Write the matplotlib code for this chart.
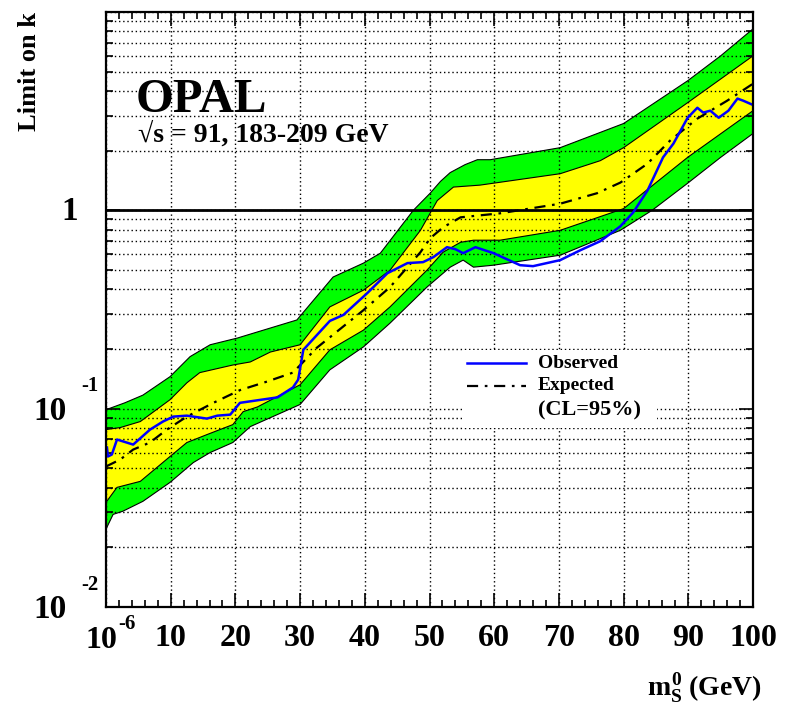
import numpy as np
import matplotlib.pyplot as plt
from matplotlib.ticker import LogLocator, MultipleLocator, NullFormatter
from matplotlib.patches import Rectangle
from matplotlib.lines import Line2D

plt.rcParams['font.family'] = ['Liberation Serif', 'DejaVu Serif']
plt.rcParams['font.weight'] = 'bold'
plt.rcParams['mathtext.fontset'] = 'custom'
plt.rcParams['mathtext.rm'] = 'Liberation Serif:bold'
plt.rcParams['mathtext.it'] = 'Liberation Serif:bold'
plt.rcParams['mathtext.bf'] = 'Liberation Serif:bold'

# 2 sigma band (green)
m_g_up = [0, 2.9, 5.7, 9.9, 13.0, 16.1, 20.3, 25.4, 29.5, 35.1, 39.8, 42.4, 47.5, 50.1, 51.7, 53.2, 55.5, 57.4, 59.4, 70.2, 80.0, 89.9, 95.0, 100]
k_g_up = [0.0988, 0.107, 0.117, 0.145, 0.183, 0.210, 0.227, 0.255, 0.280, 0.461, 0.542, 0.608, 1.0, 1.22, 1.40, 1.55, 1.70, 1.80, 1.80, 2.07, 2.74, 4.50, 6.01, 8.22]
m_g_lo = [0, 1.1, 2.6, 5.7, 9.9, 13.5, 16.1, 19.6, 22.3, 30.0, 34.6, 39.8, 43.9, 49.6, 53.2, 55.2, 56.8, 59.9, 70.2, 79.5, 84.4, 89.9, 95.0, 100]
k_g_lo = [0.0247, 0.0293, 0.0304, 0.0341, 0.0425, 0.0535, 0.0601, 0.0675, 0.0812, 0.105, 0.157, 0.205, 0.270, 0.410, 0.517, 0.561, 0.517, 0.529, 0.594, 0.793, 1.0, 1.37, 1.85, 2.44]

# 1 sigma band (yellow)
m_y_up = [0, 2.2, 5.3, 9.9, 12.5, 14.5, 19.6, 22.3, 25.4, 30.0, 34.6, 39.8, 43.9, 48.6, 51.2, 53.7, 57.8, 70.2, 76.4, 80.0, 89.9, 100]
k_y_up = [0.0784, 0.0803, 0.0861, 0.111, 0.135, 0.152, 0.166, 0.172, 0.193, 0.210, 0.326, 0.396, 0.499, 0.793, 1.12, 1.31, 1.34, 1.53, 1.78, 2.07, 3.49, 6.01]
m_y_lo = [0, 1.7, 5.3, 9.9, 12.5, 15.6, 19.6, 21.2, 23.4, 30.0, 34.6, 39.8, 43.9, 49.6, 52.1, 54.8, 56.8, 60.9, 70.2, 80.0, 89.9, 100]
k_y_lo = [0.0337, 0.0401, 0.0430, 0.0574, 0.0675, 0.0740, 0.0831, 0.0966, 0.102, 0.132, 0.198, 0.249, 0.326, 0.499, 0.615, 0.690, 0.707, 0.707, 0.793, 1.02, 1.85, 3.18]

# expected limit
m_exp = [0, 2.2, 4.2, 6.8, 9.4, 12.5, 16.6, 20.7, 24.9, 28.9, 32.6, 35.1, 39.8, 43.9, 48.6, 50.1, 52.1, 54.8, 60.9, 70.2, 75.9, 79.5, 83.7, 87.2, 91.4, 96.0, 100]
k_exp = [0.0511, 0.0554, 0.0622, 0.0675, 0.0784, 0.0912, 0.107, 0.124, 0.137, 0.152, 0.203, 0.236, 0.314, 0.410, 0.615, 0.723, 0.821, 0.922, 0.966, 1.08, 1.22, 1.38, 1.72, 2.25, 2.90, 3.57, 4.35]

# observed limit
m_obs = [0.15, 0.3, 0.9, 1.7, 4.2, 6.8, 8.8, 10.4, 12.5, 15.6, 17.2, 19.2, 20.7, 26.5, 28.9, 29.7, 30.5, 34.6, 36.7, 40.4, 43.5, 46.6, 49.0, 50.6, 52.7, 54.0, 55.2, 57.1, 59.9, 64.0, 66.0, 70.2, 73.3, 76.4, 79.5, 81.5, 83.7, 86.1, 87.7, 89.9, 91.4, 92.3, 93.4, 94.7, 96.2, 97.6, 98.5, 99.9]
k_obs = [0.0637, 0.0574, 0.0587, 0.0699, 0.0659, 0.0784, 0.0861, 0.0912, 0.0922, 0.0891, 0.0922, 0.0933, 0.107, 0.114, 0.128, 0.140, 0.198, 0.277, 0.297, 0.383, 0.482, 0.542, 0.548, 0.581, 0.652, 0.637, 0.608, 0.652, 0.608, 0.529, 0.523, 0.561, 0.629, 0.699, 0.831, 0.977, 1.26, 1.85, 2.17, 2.93, 3.29, 3.11, 3.18, 2.93, 3.18, 3.66, 3.57, 3.41]

W, H = 793, 704
fig = plt.figure(figsize=(W / 100, H / 100), dpi=100)
ax = fig.add_axes([106 / W, 1 - 607 / H, 647 / W, 595 / H])
ax.set_yscale('log')
ax.set_xlim(0, 100)
ax.set_ylim(0.01, 10)

ax.fill(np.r_[m_g_up, m_g_lo[::-1]], np.r_[k_g_up, k_g_lo[::-1]],
        facecolor='#00ff00', edgecolor='black', lw=0.8, zorder=1)
ax.fill(np.r_[m_y_up, m_y_lo[::-1]], np.r_[k_y_up, k_y_lo[::-1]],
        facecolor='#ffff00', edgecolor='black', lw=0.8, zorder=1.2)
ax.plot(m_exp, k_exp, color='black', lw=1.6, linestyle=(0, (5, 3, 1.2, 3)), zorder=3)
ax.plot(m_obs, k_obs, color='#0000ff', lw=1.8, zorder=3.1)
ax.axhline(1, color='black', lw=2.0, zorder=2.8)

# grid and ticks
ax.set_xticks(np.arange(0, 101, 10))
ax.set_xticklabels([''] + [str(v) for v in range(10, 101, 10)], fontsize=23)
ax.xaxis.set_minor_locator(MultipleLocator(2))
ax.yaxis.set_major_locator(LogLocator(base=10))
ax.yaxis.set_minor_locator(LogLocator(base=10, subs=np.arange(2, 10)))
ax.yaxis.set_minor_formatter(NullFormatter())
ax.tick_params(axis='y', which='both', labelleft=False)
ax.tick_params(which='both', direction='in', top=True, right=True, width=1.2)
ax.tick_params(which='major', length=10)
ax.tick_params(which='minor', length=5)
ax.tick_params(axis='x', pad=12)
ax.set_axisbelow(False)
ax.xaxis.grid(True, which='major', color='black', lw=1.0, linestyle=(0, (1, 2)))
ax.yaxis.grid(True, which='both', color='black', lw=1.0, linestyle=(0, (1, 2)))
for s in ax.spines.values():
    s.set_linewidth(1.6)
    s.set_zorder(4)

def px(x, y):
    return x / W, 1 - y / H

# y tick labels in ROOT style
fig.text(*px(70, 212), '1', fontsize=24, ha='center', va='center')
fig.text(*px(50, 411), '10', fontsize=24, ha='center', va='center')
fig.text(*px(90, 386), '-1', fontsize=15, ha='center', va='center')
fig.text(*px(50, 610), '10', fontsize=24, ha='center', va='center')
fig.text(*px(90, 585), '-2', fontsize=15, ha='center', va='center')
# first x tick label
fig.text(*px(101, 641), '10', fontsize=23, ha='center', va='center')
fig.text(*px(127, 624), '-6', fontsize=15, ha='center', va='center')

fig.text(*px(30, 12), 'Limit on k', fontsize=19, rotation=90, ha='center', va='top')
fig.text(*px(762, 688), r'$m_{S}^{0}$ (GeV)', fontsize=20, ha='right', va='center')

fig.text(*px(136, 112), 'OPAL', fontsize=35, va='baseline')
fig.text(*px(138, 142), '\u221as = 91, 183-209 GeV', fontsize=20, va='baseline')

# legend box
fig.add_artist(Rectangle(px(462, 428), 195 / W, 78 / H, transform=fig.transFigure,
                         facecolor='white', edgecolor='none', zorder=1))
fig.add_artist(Line2D([467 / W, 526 / W], [1 - 363 / H] * 2, color='#0000ff', lw=1.8, zorder=2))
fig.add_artist(Line2D([467 / W, 526 / W], [1 - 386 / H] * 2, color='black', lw=1.6,
                      linestyle=(0, (5, 3, 1.2, 3)), zorder=2))
fig.text(*px(538, 363), 'Observed', fontsize=14, va='center', zorder=3)
fig.text(*px(538, 386), 'Expected', fontsize=14, va='center', zorder=3)
fig.text(*px(538, 410), '(CL=95%)', fontsize=16, va='center', zorder=3)

fig.savefig('out.png', dpi=100)
